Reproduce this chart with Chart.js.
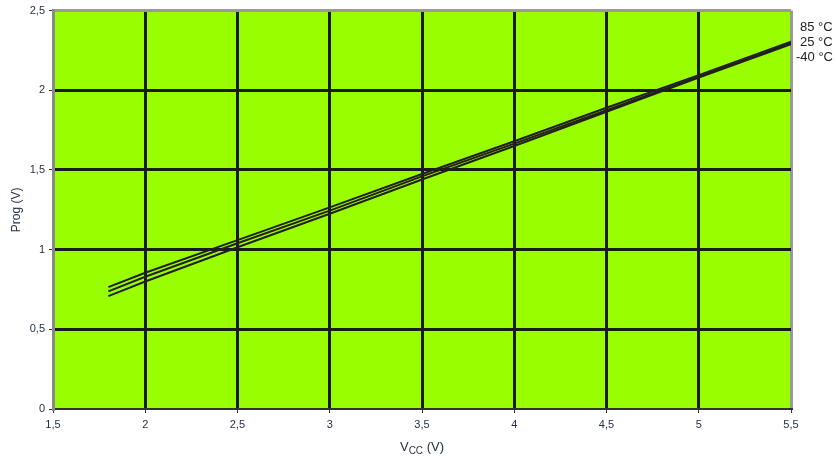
<!DOCTYPE html>
<html lang="en">
  <head>
    <meta charset="UTF-8" />
    <title>Prog vs Vcc</title>
    <script src="https://cdn.jsdelivr.net/npm/chart.js"></script>
    <style>
      body { margin: 0; background: #fff; }
      #wrap { width: 836px; height: 461px; }
    </style>
  </head>
  <body>
    <div id="wrap"><canvas id="myChart" width="836" height="461"></canvas></div>

    <script>
      // Vcc values (V)
      const vcc = [1.8, 2, 2.5, 3, 3.5, 4, 4.5, 5, 5.5];
      // Prog (V) per temperature
      const prog85 = [0.765, 0.855, 1.06, 1.265, 1.475, 1.68, 1.89, 2.095, 2.305];
      const prog25 = [0.738, 0.83, 1.04, 1.245, 1.46, 1.665, 1.875, 2.085, 2.295];
      const progM40 = [0.708, 0.8, 1.015, 1.225, 1.44, 1.65, 1.865, 2.08, 2.29];
      const tempLabels = ["85 °C", "25 °C", "-40 °C"];

      const xMin = 1.5, xMax = 5.5, yMin = 0, yMax = 2.5;
      const FONT = "'Liberation Sans', Arial, sans-serif";

      const comma = (v) => String(v).replace(".", ",");
      const toPts = (ys) => vcc.map((x, i) => ({ x: x, y: ys[i] }));

      const lineStyle = {
        borderColor: "#231f20",
        borderWidth: 2,
        pointRadius: 0,
        fill: false,
        tension: 0,
      };

      // green plot background + labels
      const decor = {
        id: "decor",
        beforeDraw(chart) {
          const { ctx, chartArea: a } = chart;
          ctx.save();
          ctx.fillStyle = "#99ff00";
          ctx.fillRect(a.left, a.top, a.right - a.left, a.bottom - a.top);
          ctx.restore();
        },
        afterDraw(chart) {
          const { ctx, chartArea: a } = chart;
          ctx.save();
          // right-side temperature labels
          ctx.fillStyle = "#222";
          ctx.font = "13px " + FONT;
          ctx.textBaseline = "middle";
          ctx.textAlign = "left";
          tempLabels.forEach((t, i) => {
            ctx.fillText(t, i === 2 ? 796 : 800, 27 + i * 15);
          });
          // y axis title
          ctx.save();
          ctx.translate(17, (a.top + a.bottom) / 2);
          ctx.rotate(-Math.PI / 2);
          ctx.textAlign = "center";
          ctx.fillStyle = "#1f2a44";
          ctx.font = "12px " + FONT;
          ctx.fillText("Prog (V)", 0, 0);
          ctx.restore();
          // x axis title with subscript
          const cx = (a.left + a.right) / 2;
          const y = 447;
          ctx.fillStyle = "#1f2a44";
          ctx.font = "13px " + FONT;
          const w1 = ctx.measureText("V").width;
          ctx.font = "10px " + FONT;
          const w2 = ctx.measureText("CC").width;
          ctx.font = "13px " + FONT;
          const w3 = ctx.measureText(" (V)").width;
          let x0 = cx - (w1 + w2 + w3) / 2;
          ctx.fillText("V", x0, y);
          ctx.font = "10px " + FONT;
          ctx.fillText("CC", x0 + w1, y + 4);
          ctx.font = "13px " + FONT;
          ctx.fillText(" (V)", x0 + w1 + w2, y);
          ctx.restore();
        },
      };

      const gridColor = (edgeLo, edgeHi) => (c) => {
        if (!c.tick) return "#1a1a1a";
        if (c.tick.value === edgeLo) return "rgba(0,0,0,0)";
        if (c.tick.value === edgeHi) return "#9a9a9a";
        return "#1a1a1a";
      };

      const config = {
        type: "line",
        data: {
          datasets: [
            { label: tempLabels[0], data: toPts(prog85), ...lineStyle },
            { label: tempLabels[1], data: toPts(prog25), ...lineStyle },
            { label: tempLabels[2], data: toPts(progM40), ...lineStyle },
          ],
        },
        options: {
          responsive: false,
          animation: false,
          layout: { padding: { top: 10, right: 45, left: 0, bottom: 0 } },
          plugins: { legend: { display: false }, tooltip: { enabled: false } },
          scales: {
            x: {
              type: "linear",
              min: xMin,
              max: xMax,
              afterFit: (s) => { s.height = 52; },
              ticks: {
                stepSize: 0.5,
                callback: comma,
                color: "#1f2a44",
                font: { family: FONT, size: 11 },
                padding: 5,
                maxRotation: 0,
              },
              grid: {
                color: gridColor(xMin, xMax),
                lineWidth: 3,
                tickColor: "#333",
                tickLength: 4,
                tickWidth: 1,
              },
              border: { display: true, color: "#333", width: 2 },
            },
            y: {
              min: yMin,
              max: yMax,
              afterFit: (s) => { s.width = 53; },
              ticks: {
                stepSize: 0.5,
                callback: comma,
                color: "#1f2a44",
                font: { family: FONT, size: 11 },
                padding: 4,
              },
              grid: {
                color: gridColor(yMin, yMax),
                lineWidth: 3,
                tickColor: "#333",
                tickLength: 4,
                tickWidth: 1,
              },
              border: { display: true, color: "#8a8a8a", width: 3 },
            },
          },
        },
        plugins: [decor],
      };

      new Chart(document.getElementById("myChart"), config);
    </script>
  </body>
</html>
